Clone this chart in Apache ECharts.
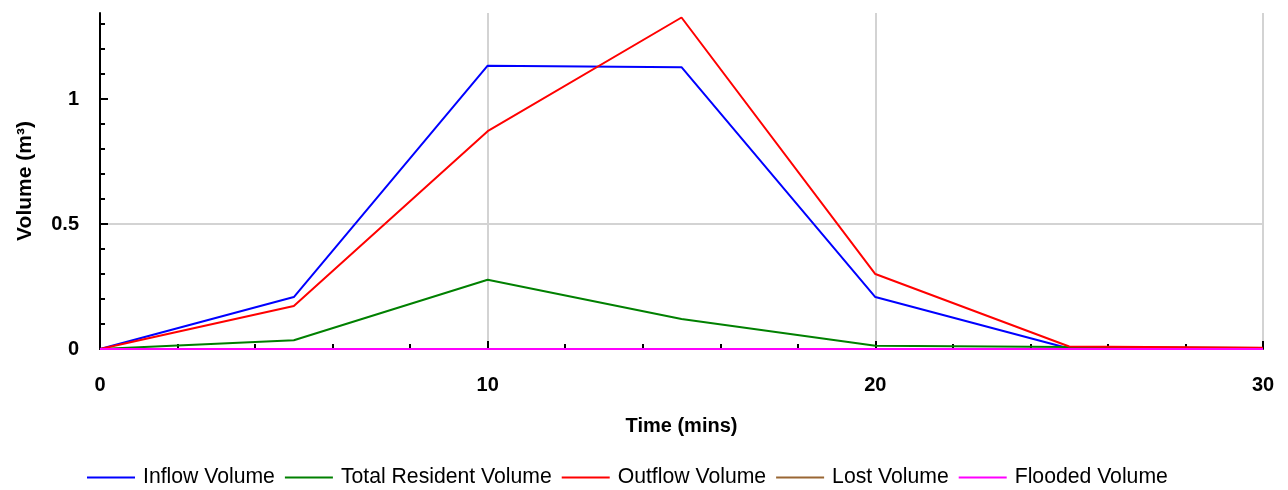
<!DOCTYPE html>
<html>
<head>
<meta charset="utf-8">
<script src="https://cdn.jsdelivr.net/npm/echarts@6/dist/echarts.min.js"></script>
<style>
  html, body { margin: 0; padding: 0; background: #fff; }
  #chart { width: 1288px; height: 490px; }
</style>
</head>
<body>
<div id="chart"></div>
<script>
// time steps (mins)
const times = [0, 5, 10, 15, 20, 25, 30];

// volumes (m³)
const inflow = [0, 0.208, 1.134, 1.128, 0.208, 0.002, 0];
const resident = [0, 0.035, 0.277, 0.12, 0.013, 0.008, 0.004];
const outflow = [0, 0.172, 0.872, 1.327, 0.3, 0.01, 0.005];
const lost = [0, 0, 0, 0, 0, 0, 0];
const flooded = [0, 0, 0, 0, 0, 0, 0];

// y tick labels
const yTicks = [0, 0.5, 1];

const seriesNames = ['Inflow Volume', 'Total Resident Volume', 'Outflow Volume', 'Lost Volume', 'Flooded Volume'];
const seriesColors = ['#0000ff', '#008000', '#ff0000', '#996633', '#ff00ff'];
const seriesData = [inflow, resident, outflow, lost, flooded];

const font = 'Liberation Sans, Arial, sans-serif';

const chart = echarts.init(document.getElementById('chart'));

const option = {
  animation: false,
  grid: { left: 100, right: 25, top: 13, bottom: 141 },
  legend: {
    top: 462,
    left: 82,
    icon: 'rect',
    itemWidth: 48,
    itemHeight: 2,
    itemGap: 10,
    textStyle: { fontFamily: font, fontSize: 21.2, color: '#000', padding: [0, 0, 0, 3] },
    data: seriesNames
  },
  xAxis: {
    type: 'value',
    min: 0,
    max: 30,
    interval: 10,
    name: 'Time (mins)',
    nameLocation: 'middle',
    nameGap: 67,
    nameTextStyle: { fontFamily: font, fontSize: 20, fontWeight: 'bold', color: '#000' },
    axisLine: { lineStyle: { color: '#000', width: 2 } },
    axisTick: { inside: true, length: 8, lineStyle: { color: '#000', width: 2 } },
    minorTick: { show: true, splitNumber: 5, length: 5, lineStyle: { color: '#000', width: 2 } },
    axisLabel: { fontFamily: font, fontSize: 20, fontWeight: 'bold', color: '#000', margin: 26 },
    splitLine: { show: true, lineStyle: { color: '#d3d3d3', width: 2 } }
  },
  yAxis: {
    type: 'value',
    min: 0,
    max: 1.345,
    interval: 0.5,
    name: 'Volume (m³)',
    nameLocation: 'middle',
    nameGap: 64,
    nameTextStyle: { fontFamily: font, fontSize: 21, fontWeight: 'bold', color: '#000' },
    axisLine: { show: true, lineStyle: { color: '#000', width: 2 } },
    axisTick: { show: true, inside: true, length: 8, customValues: yTicks, lineStyle: { color: '#000', width: 2 } },
    minorTick: { show: true, splitNumber: 5, length: 5, lineStyle: { color: '#000', width: 2 } },
    axisLabel: { fontFamily: font, fontSize: 20, fontWeight: 'bold', color: '#000', margin: 21, customValues: yTicks },
    splitLine: { show: true, showMaxLine: false, lineStyle: { color: '#d3d3d3', width: 2 } }
  },
  series: seriesNames.map((name, i) => ({
    name: name,
    type: 'line',
    symbol: 'none',
    color: seriesColors[i],
    lineStyle: { width: 2, color: seriesColors[i] },
    data: times.map((t, j) => [t, seriesData[i][j]])
  }))
};

chart.setOption(option);
</script>
</body>
</html>
